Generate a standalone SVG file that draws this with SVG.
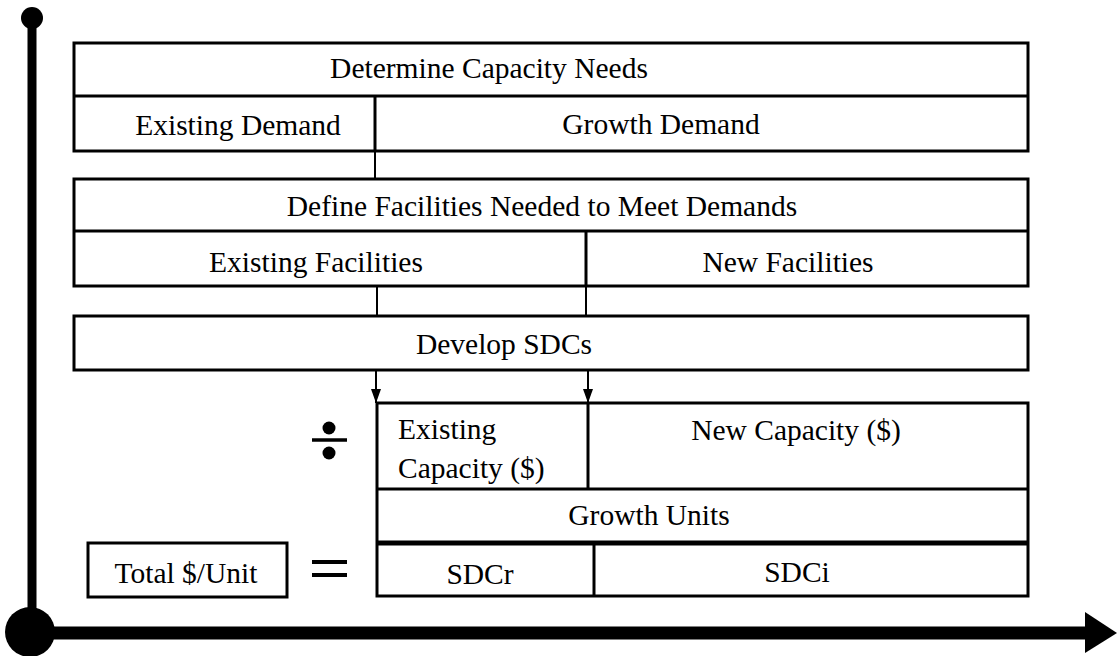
<svg xmlns="http://www.w3.org/2000/svg" width="1117" height="656" viewBox="0 0 1117 656">
<style>
.box{fill:#fff;stroke:#000;stroke-width:3}
.ln{stroke:#000;stroke-width:3;fill:none}
.cn{stroke:#000;stroke-width:2;fill:none}
.ar{marker-end:url(#ah)}
.t{font-family:"Liberation Serif","Times New Roman",serif;font-size:29.5px;fill:#000}
.m{text-anchor:middle}
</style>
<defs>
<marker id="ah" markerWidth="14" markerHeight="10" refX="14" refY="5" orient="auto" markerUnits="userSpaceOnUse" viewBox="0 0 14 10">
<path d="M0,0 L14,5 L0,10 Z" fill="#000"/>
</marker>
</defs>
<rect width="1117" height="656" fill="#fff"/>
<g id="axes">
<line x1="32" y1="18" x2="32" y2="632" stroke="#000" stroke-width="9"/>
<circle cx="32" cy="18" r="11" fill="#000"/>
<line x1="30" y1="633" x2="1087" y2="633" stroke="#000" stroke-width="13"/>
<polygon points="1085,612 1117,633 1085,653" fill="#000"/>
<circle cx="30" cy="632" r="25" fill="#000"/>
</g>
<g id="connectors">
<line class="cn" x1="375" y1="151" x2="375" y2="179"/>
<line class="cn" x1="377" y1="286" x2="377" y2="316"/>
<line class="cn" x1="586" y1="286" x2="586" y2="316"/>
<line class="cn ar" x1="376" y1="370" x2="376" y2="403"/>
<line class="cn ar" x1="588" y1="370" x2="588" y2="403"/>
</g>
<g id="determine">
<rect class="box" x="74" y="43" width="954" height="108"/>
<line class="ln" x1="74" y1="96" x2="1028" y2="96"/>
<line class="ln" x1="375" y1="96" x2="375" y2="151"/>
<text class="t m" x="489" y="78">Determine Capacity Needs</text>
<text class="t m" x="238" y="135">Existing Demand</text>
<text class="t m" x="661" y="134">Growth Demand</text>
</g>
<g id="define">
<rect class="box" x="74" y="179" width="954" height="107"/>
<line class="ln" x1="74" y1="231" x2="1028" y2="231"/>
<line class="ln" x1="586" y1="231" x2="586" y2="286"/>
<text class="t m" x="542" y="216">Define Facilities Needed to Meet Demands</text>
<text class="t m" x="316" y="272">Existing Facilities</text>
<text class="t m" x="788" y="272">New Facilities</text>
</g>
<g id="develop">
<rect class="box" x="74" y="316" width="954" height="54"/>
<text class="t m" x="504" y="354">Develop SDCs</text>
</g>
<g id="capacity">
<rect class="box" x="377" y="403" width="651" height="193"/>
<line class="ln" x1="377" y1="489" x2="1028" y2="489"/>
<line x1="377" y1="543" x2="1028" y2="543" stroke="#000" stroke-width="5"/>
<line class="ln" x1="588" y1="403" x2="588" y2="489"/>
<line class="ln" x1="594" y1="543" x2="594" y2="596"/>
<text class="t" x="398" y="439">Existing</text>
<text class="t" x="398" y="478">Capacity ($)</text>
<text class="t m" x="796" y="440">New Capacity ($)</text>
<text class="t m" x="649" y="525">Growth Units</text>
<text class="t m" x="480" y="584">SDCr</text>
<text class="t m" x="797" y="582">SDCi</text>
</g>
<g id="divide">
<line x1="312" y1="440" x2="347" y2="440" stroke="#000" stroke-width="3.5"/>
<circle cx="329" cy="428" r="6.5" fill="#000"/>
<circle cx="329" cy="453" r="6.5" fill="#000"/>
</g>
<g id="equals">
<line x1="312" y1="562" x2="347" y2="562" stroke="#000" stroke-width="4"/>
<line x1="312" y1="575" x2="347" y2="575" stroke="#000" stroke-width="4"/>
</g>
<g id="total">
<rect class="box" x="88" y="543" width="199" height="54"/>
<text class="t m" x="186" y="583">Total $/Unit</text>
</g>
</svg>
